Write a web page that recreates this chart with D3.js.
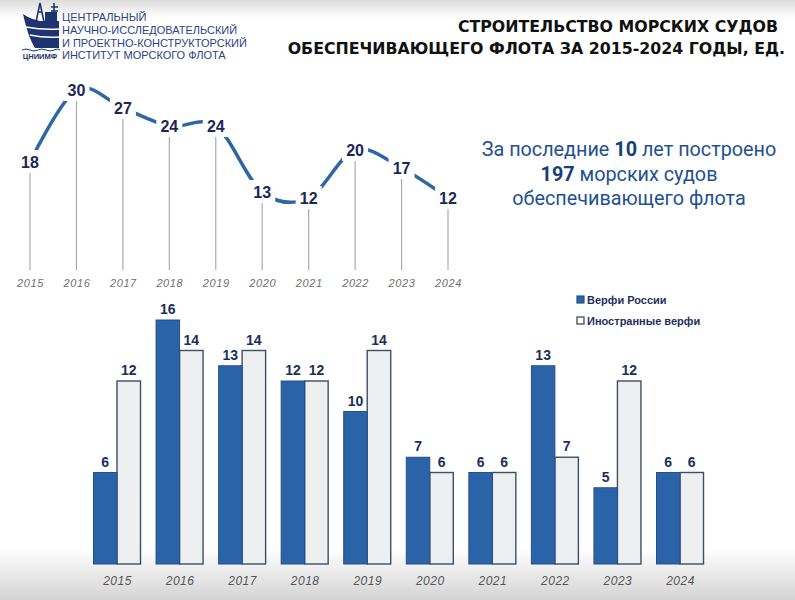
<!DOCTYPE html>
<html><head><meta charset="utf-8">
<script src="https://cdn.jsdelivr.net/npm/d3@7"></script>
<style>html,body{margin:0;padding:0;background:#fff;}svg{display:block;}</style>
</head><body>
<script>
const years = ["2015","2016","2017","2018","2019","2020","2021","2022","2023","2024"];
const totalBuilt = [18,30,27,24,24,13,12,20,17,12];
const russianYards = [6,16,13,12,10,7,6,13,5,6];
const foreignYards = [12,14,14,12,14,6,6,7,12,6];
const seriesNames = ["Верфи России","Иностранные верфи"];
const titleLines = ["СТРОИТЕЛЬСТВО МОРСКИХ СУДОВ","ОБЕСПЕЧИВАЮЩЕГО ФЛОТА ЗА 2015-2024 ГОДЫ, ЕД."];
const orgLines = ["ЦЕНТРАЛЬНЫЙ","НАУЧНО-ИССЛЕДОВАТЕЛЬСКИЙ","И ПРОЕКТНО-КОНСТРУКТОРСКИЙ","ИНСТИТУТ МОРСКОГО ФЛОТА"];

const W=795,H=600;
const svg=d3.select("body").append("svg").attr("width",W).attr("height",H);
const defs=svg.append("defs");
const gTop=defs.append("linearGradient").attr("id","gtop").attr("x1",0).attr("x2",0).attr("y1",0).attr("y2",1);
gTop.append("stop").attr("offset","0%").attr("stop-color","#dcdcdc");
gTop.append("stop").attr("offset","100%").attr("stop-color","#ffffff");
const gBot=defs.append("linearGradient").attr("id","gbot").attr("x1",0).attr("x2",0).attr("y1",0).attr("y2",1);
gBot.append("stop").attr("offset","0%").attr("stop-color","#ffffff");
gBot.append("stop").attr("offset","100%").attr("stop-color","#d4d4d4");

svg.append("rect").attr("width",W).attr("height",H).attr("fill","#fff");
svg.append("rect").attr("width",W).attr("height",18).attr("fill","url(#gtop)");
svg.append("rect").attr("y",548).attr("width",W).attr("height",52).attr("fill","url(#gbot)");

// Logo
const logo=svg.append("g");
const navy="#1d3470";
logo.append("path").attr("fill",navy)
  .attr("d","M23,14 C29,18 35,20 40,21 L59,21 L59,48 L35,48 C29,38 26,27 23,14 Z");
logo.append("rect").attr("x",45).attr("y",12).attr("width",12).attr("height",10).attr("fill",navy);
logo.append("path").attr("fill","none").attr("stroke",navy).attr("stroke-width",1.6)
  .attr("d","M36,22 L40,3 L44,22 M38,12 L42,12 M54,3 L54,22 M51,7 L58,7 M51,11 L58,11");
logo.append("path").attr("fill","none").attr("stroke","#fff").attr("stroke-width",1.3)
  .attr("d","M26,27 Q42,30 59,29 M30,35 Q44,38 59,37");
logo.append("path").attr("fill","none").attr("stroke",navy).attr("stroke-width",1)
  .attr("d","M22,50 Q26,48 30,50 T38,50 T46,50 T54,50 T60,50");
logo.append("text").attr("x",40).attr("y",59).attr("text-anchor","middle")
  .attr("font-family","Liberation Sans, Arial, sans-serif").attr("font-weight","bold")
  .attr("font-size",7.5).attr("fill",navy).text("ЦНИИМФ");
logo.selectAll("text.org").data(orgLines).enter().append("text").attr("class","org")
  .attr("x",62).attr("y",(d,i)=>21+i*12.8)
  .attr("font-family","Liberation Sans, Arial, sans-serif").attr("font-size",11).attr("fill","#2a4384")
  .text(d=>d);

// Title
svg.selectAll("text.title").data(titleLines).enter().append("text").attr("class","title")
  .attr("x",(d,i)=>i===0?778:785).attr("y",(d,i)=>i===0?32:54)
  .attr("text-anchor","end").attr("font-family","DejaVu Sans, sans-serif")
  .attr("font-weight","bold").attr("font-size",15.8).attr("fill","#111").text(d=>d);

// Summary text
const sumG=svg.append("g").attr("font-family","Roboto, sans-serif").attr("font-size",19.8).attr("fill","#1f5192").attr("text-anchor","middle");
const t1=sumG.append("text").attr("x",629).attr("y",156);
t1.append("tspan").text("За последние ");
t1.append("tspan").attr("font-weight","bold").attr("fill","#163f7a").text("10");
t1.append("tspan").text(" лет построено");
const t2=sumG.append("text").attr("x",629).attr("y",180.5);
t2.append("tspan").attr("font-weight","bold").attr("fill","#163f7a").text("197");
t2.append("tspan").text(" морских судов");
sumG.append("text").attr("x",629).attr("y",205).text("обеспечивающего флота");

// Line chart
const xL=d3.scalePoint().domain(years).range([30,448]);
const yL=d3.scaleLinear().domain([0,30]).range([270,90]);
const lineData=years.map((y,i)=>({year:y,v:totalBuilt[i]}));
svg.append("g").selectAll("line").data(lineData).enter().append("line")
  .attr("x1",d=>xL(d.year)).attr("x2",d=>xL(d.year))
  .attr("y1",d=>yL(d.v)+10).attr("y2",yL(0))
  .attr("stroke","#a8acb2").attr("stroke-width",1.2);
svg.append("path").datum(lineData)
  .attr("d",d3.line().x(d=>xL(d.year)).y(d=>yL(d.v)).curve(d3.curveCatmullRom.alpha(0)))
  .attr("fill","none").attr("stroke","#2f67a6").attr("stroke-width",3.5).attr("stroke-linecap","round");
svg.append("g").selectAll("rect").data(lineData).enter().append("rect")
  .attr("x",d=>xL(d.year)-13).attr("y",d=>yL(d.v)-12).attr("width",26).attr("height",23).attr("fill","#fff");
svg.append("g").selectAll("text").data(lineData).enter().append("text")
  .attr("x",d=>xL(d.year)).attr("y",d=>yL(d.v)+6).attr("text-anchor","middle")
  .attr("font-family","Liberation Sans, Arial, sans-serif").attr("font-weight","bold")
  .attr("font-size",16).attr("fill","#1c2757").text(d=>d.v);
const axL=svg.append("g").attr("transform","translate(0,287)")
  .call(d3.axisBottom(xL).tickSize(0).tickPadding(0));
axL.select(".domain").remove();
axL.selectAll("text").attr("font-family","Liberation Sans, Arial, sans-serif").attr("font-style","italic")
  .attr("font-size",11).attr("letter-spacing","0.6px").attr("fill","#707070").attr("dy",0);

// Bar chart
const xB=d3.scalePoint().domain(years).range([117,680]);
const xS=d3.scaleBand().domain([0,1]).range([-23.5,23.5]);
const yB=d3.scaleLinear().domain([0,16]).range([564,320]);
const barData=[];
years.forEach((y,i)=>{barData.push({year:y,s:0,v:russianYards[i]});barData.push({year:y,s:1,v:foreignYards[i]});});
const bars=svg.append("g");
bars.selectAll("rect").data(barData.filter(d=>d.s===1).concat(barData.filter(d=>d.s===0))).enter().append("rect")
  .attr("x",d=>xB(d.year)+xS(d.s)).attr("y",d=>yB(d.v))
  .attr("width",xS.bandwidth()).attr("height",d=>yB(0)-yB(d.v))
  .attr("fill",d=>d.s===0?"#2b63a8":"#eeeff1")
  .attr("stroke",d=>d.s===0?"#24518a":"#3d4f66").attr("stroke-width",d=>d.s===0?1:1.4);
svg.append("g").selectAll("text").data(barData).enter().append("text")
  .attr("x",d=>xB(d.year)+xS(d.s)+xS.bandwidth()/2).attr("y",d=>yB(d.v)-6)
  .attr("text-anchor","middle").attr("font-family","Liberation Sans, Arial, sans-serif")
  .attr("font-weight","bold").attr("font-size",14).attr("fill","#1c2f5a").text(d=>d.v);
const axB=svg.append("g").attr("transform","translate(0,585)")
  .call(d3.axisBottom(xB).tickSize(0).tickPadding(0));
axB.select(".domain").remove();
axB.selectAll("text").attr("font-family","Liberation Sans, Arial, sans-serif").attr("font-style","italic")
  .attr("font-size",12).attr("letter-spacing","0.5px").attr("fill","#555").attr("dy",0);

// Legend
const lg=svg.append("g").selectAll("g").data(seriesNames).enter().append("g")
  .attr("transform",(d,i)=>`translate(577,${296+i*21})`);
lg.append("rect").attr("width",7).attr("height",7)
  .attr("fill",(d,i)=>i===0?"#2b63a8":"#fff").attr("stroke",(d,i)=>i===0?"#24518a":"#2c3e55").attr("stroke-width",1.2);
lg.append("text").attr("x",10).attr("y",7.5).attr("font-family","Liberation Sans, Arial, sans-serif")
  .attr("font-weight","bold").attr("font-size",11).attr("fill","#1f2f5c").text(d=>d);
</script>
</body></html>
